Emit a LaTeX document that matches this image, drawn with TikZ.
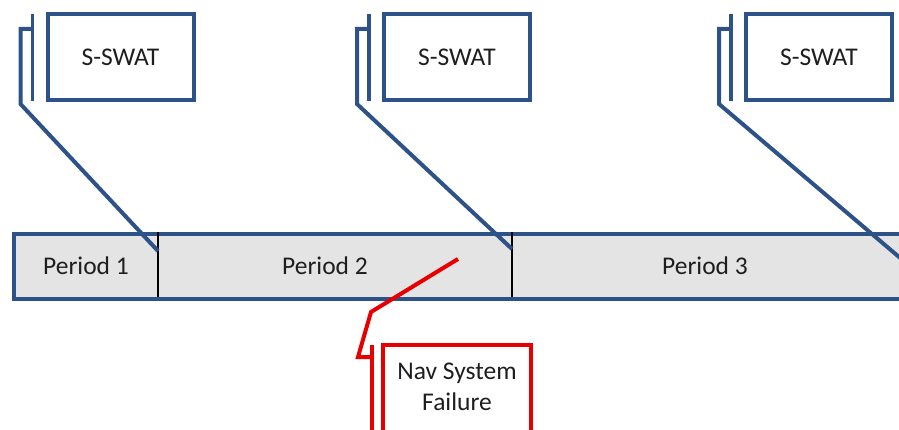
\documentclass[tikz,border=0pt]{standalone}
\usepackage{fontspec}
\setmainfont{Carlito}
\definecolor{navy}{RGB}{44,82,135}
\definecolor{barfill}{RGB}{228,228,228}
\definecolor{alert}{RGB}{232,0,0}
\definecolor{ink}{RGB}{30,30,30}

\begin{document}
\begin{tikzpicture}[x=1pt,y=-1pt,
  every node/.style={font=\fontsize{25.5}{31}\selectfont, text=ink},
  callbox/.style={draw=navy, line width=4pt, fill=white, minimum width=146pt, minimum height=86pt, inner sep=0pt},
  alertbox/.style={draw=alert, line width=4pt, fill=white, minimum width=148pt, minimum height=100pt, inner sep=0pt, anchor=north},
  accent/.style={draw=navy, line width=3.5pt},
  leader/.style={draw=navy, line width=4pt, line join=miter},
  redaccent/.style={draw=alert, line width=3.5pt},
  redleader/.style={draw=alert, line width=4pt, line join=miter},
  divider/.style={draw=black, line width=2pt},
  periodlabel/.style={inner sep=0pt}
]
\useasboundingbox (0,0) rectangle (899,430);
\clip (0,0) rectangle (899,430);

% timeline bar
\node[draw=navy, line width=4pt, fill=barfill, minimum width=898pt, minimum height=65pt,
      inner sep=0pt, anchor=north west] (bar) at (12,232) {};
\coordinate (d1t) at (158,232); \coordinate (d1b) at (158,297);
\coordinate (d2t) at (512,232); \coordinate (d2b) at (512,297);
\draw[divider] (d1t) -- (d1b);
\draw[divider] (d2t) -- (d2b);
\node[periodlabel] (p1) at (86,266) {Period 1};
\node[periodlabel] (p2) at (325,266) {Period 2};
\node[periodlabel] (p3) at (705,266) {Period 3};

% S-SWAT callouts
\node[callbox] (s1) at (120.5,57) {S-SWAT};
\node[callbox] (s2) at (457,57) {S-SWAT};
\node[callbox] (s3) at (819,57) {S-SWAT};

% anchor points on the bar
\coordinate (t1) at (158,251);
\coordinate (t2) at (512,249);
\coordinate (t3) at (912,268);

\foreach \s/\t in {s1/t1, s2/t2, s3/t3}{
  \draw[accent] ([xshift=-13pt,yshift=-2pt]\s.north west) -- ([xshift=-13pt,yshift=1pt]\s.south west);
  \draw[leader] ([xshift=-13pt,yshift=-17pt]\s.north west) -- ([xshift=-25pt,yshift=-17pt]\s.north west)
     -- ([xshift=-25pt,yshift=-2pt]\s.south west) -- (\t);
}

% failure callout
\node[alertbox] (fail) at (457,343) {};
\node[inner sep=0pt, align=center] (failtext) at (457,386.5) {Nav System\\Failure};
\coordinate (ft) at (458,259);
\coordinate (fa) at (372,345);
\coordinate (fab) at (372,440);
\draw[redaccent] (fa) -- (fab);
\draw[redleader] (372,357) -- (358,357) -- (371,312) -- (ft);
\end{tikzpicture}
\end{document}
